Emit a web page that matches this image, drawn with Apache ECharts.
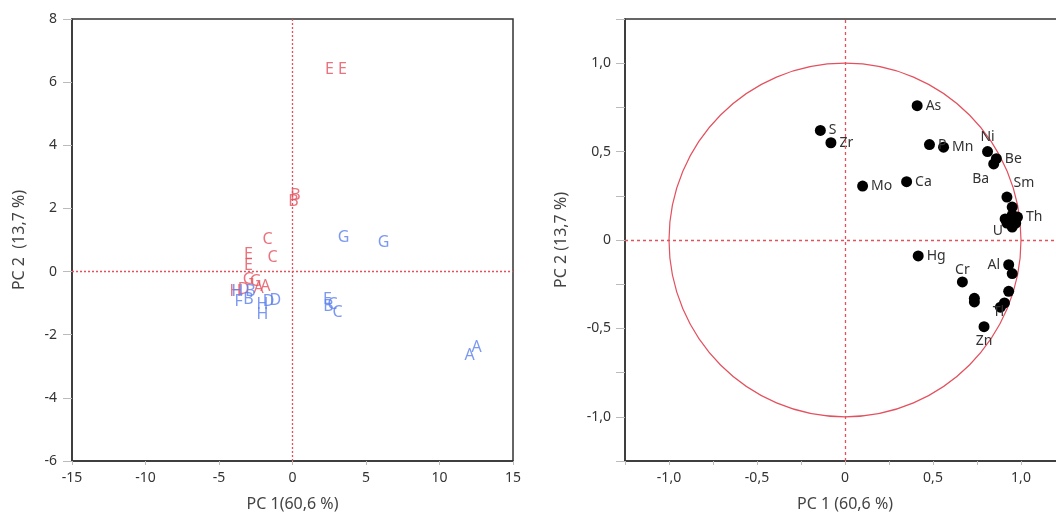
<!DOCTYPE html>
<html>
<head>
<meta charset="utf-8">
<script src="https://cdn.jsdelivr.net/npm/echarts@6/dist/echarts.min.js"></script>
<style>html,body{margin:0;padding:0;background:#fff}#c{width:1056px;height:516px}</style>
</head>
<body>
<div id="c"></div>
<script>
// ---- Scores plot (left) ----
const redLetters = ['E','E','B','B','C','C','E','E','G','G','A','A','D','H'];
const redX = [2.52,3.40,0.20,0.07,-1.70,-1.36,-2.99,-2.99,-2.99,-2.52,-1.84,-2.30,-3.33,-3.88];
const redY = [6.39,6.39,2.41,2.22,1.01,0.44,0.54,0.19,-0.25,-0.32,-0.47,-0.54,-0.57,-0.63];
const blueLetters = ['G','G','E','B','C','C','D','D','H','H','B','B','F','H','A','A'];
const blueX = [3.47,6.19,2.38,2.45,2.72,3.06,-1.16,-1.63,-2.04,-2.04,-2.99,-2.86,-3.67,-3.74,12.04,12.52];
const blueY = [1.08,0.92,-0.89,-1.11,-1.04,-1.30,-0.92,-0.95,-1.04,-1.36,-0.89,-0.63,-0.95,-0.63,-2.66,-2.41];
const leftXTicks = {min:-15, max:15, interval:5};
const leftYTicks = {min:-6, max:8, interval:2};

// ---- Loadings plot (right) ----
const varNames = ['S','Zr','As','P','Mn','Ni','Be','Ba','Mo','Ca','Sm','','','','Th','','','U','Hg','Cr','','','Al','','','Tl','','Zn'];
const varX = [-0.14,-0.08,0.41,0.48,0.56,0.81,0.86,0.845,0.10,0.35,0.92,0.95,0.95,0.91,0.98,0.97,0.95,0.92,0.416,0.667,0.735,0.735,0.93,0.95,0.93,0.906,0.883,0.79];
const varY = [0.62,0.55,0.76,0.54,0.525,0.50,0.46,0.43,0.305,0.33,0.243,0.186,0.141,0.119,0.130,0.096,0.073,0.096,-0.09,-0.237,-0.33,-0.35,-0.14,-0.19,-0.29,-0.356,-0.38,-0.49];
const rightTicks = {min:-1.25, max:1.25, interval:0.25};
const circleRadius = [1];

// label placement (style only)
const labelPlace = {
  Ni:{position:'top', distance:2},
  Ba:{position:'inside', offset:[-13,15]},
  Sm:{position:'inside', offset:[17,-14]},
  U:{position:'inside', offset:[-9,8]},
  Al:{position:'left', distance:3},
  Cr:{position:'inside', offset:[0,-12]},
  Tl:{position:'inside', offset:[-6,9]},
  Zn:{position:'bottom', distance:2}
};

const FONT = '"Noto Sans", "Open Sans", sans-serif';
const RED = '#e3505e';
const BLUE = '#5b80ee';
const TXT = '#333';

function fmtRight(v){
  const r = Math.round(v*100)/100;
  if (Math.abs(r) < 1e-9) return '0';
  if (Math.abs((r*2) - Math.round(r*2)) > 1e-9) return '';
  return r.toFixed(1).replace('.', ',');
}

const axisCommon = {
  axisLine:{show:true, onZero:false, lineStyle:{color:'#333', width:1.5}},
  splitLine:{show:false},
  axisLabel:{color:TXT, fontFamily:FONT, fontSize:14},
  nameTextStyle:{color:'#444', fontFamily:FONT, fontSize:16},
  nameLocation:'middle'
};

const zeroLines = {
  silent:true, symbol:'none', label:{show:false},
  lineStyle:{color:RED, type:[2,2], width:1.3},
  data:[{xAxis:0},{yAxis:0}]
};

const option = {
  animation:false,
  backgroundColor:'#fff',
  grid:[
    {left:72, top:19, width:441, height:442, show:true, borderColor:'#333', borderWidth:1.5, backgroundColor:'transparent', containLabel:false, outerBoundsMode:'none'},
    {left:625, top:19, width:440, height:442, show:true, borderColor:'#333', borderWidth:1.5, backgroundColor:'transparent', containLabel:false, outerBoundsMode:'none'}
  ],
  xAxis:[
    Object.assign({}, axisCommon, {gridIndex:0, type:'value', min:leftXTicks.min, max:leftXTicks.max, interval:leftXTicks.interval,
      name:'PC 1(60,6 %)', nameGap:35,
      axisTick:{show:true, length:4, lineStyle:{color:'#bbb'}},
      axisLabel:Object.assign({}, axisCommon.axisLabel, {margin:10})}),
    Object.assign({}, axisCommon, {gridIndex:1, type:'value', min:rightTicks.min, max:rightTicks.max, interval:rightTicks.interval,
      name:'PC 1 (60,6 %)', nameGap:35,
      axisTick:{show:true, length:4, lineStyle:{color:'#bbb'}},
      axisLabel:Object.assign({}, axisCommon.axisLabel, {margin:10, formatter:fmtRight, showMinLabel:true, showMaxLabel:true})})
  ],
  yAxis:[
    Object.assign({}, axisCommon, {gridIndex:0, type:'value', min:leftYTicks.min, max:leftYTicks.max, interval:leftYTicks.interval,
      name:'PC 2  (13,7 %)', nameGap:45,
      axisTick:{show:true, length:9, lineStyle:{color:'#bbb'}},
      axisLabel:Object.assign({}, axisCommon.axisLabel, {margin:15})}),
    Object.assign({}, axisCommon, {gridIndex:1, type:'value', min:rightTicks.min, max:rightTicks.max, interval:rightTicks.interval,
      name:'PC 2 (13,7 %)', nameGap:56,
      axisTick:{show:true, length:9, lineStyle:{color:'#bbb'}},
      axisLabel:Object.assign({}, axisCommon.axisLabel, {margin:14, formatter:fmtRight})})
  ],
  series:[
    {
      type:'scatter', xAxisIndex:0, yAxisIndex:0, symbolSize:1,
      itemStyle:{color:'rgba(0,0,0,0)'},
      data:redX.map((x,i)=>[x, redY[i], redLetters[i]]),
      label:{show:true, position:'inside', formatter:p=>p.data[2], color:RED, fontFamily:FONT, fontSize:16},
      markLine:zeroLines, z:3
    },
    {
      type:'scatter', xAxisIndex:0, yAxisIndex:0, symbolSize:1,
      itemStyle:{color:'rgba(0,0,0,0)'},
      data:blueX.map((x,i)=>[x, blueY[i], blueLetters[i]]),
      label:{show:true, position:'inside', formatter:p=>p.data[2], color:BLUE, fontFamily:FONT, fontSize:16},
      z:3
    },
    {
      type:'custom', xAxisIndex:1, yAxisIndex:1, silent:true,
      data:[[0,0,circleRadius[0]]],
      renderItem:function(params, api){
        const c = api.coord([api.value(0), api.value(1)]);
        const s = api.size([api.value(2), api.value(2)]);
        return {type:'ellipse', shape:{cx:c[0], cy:c[1], rx:s[0], ry:s[1]},
          style:{fill:null, stroke:RED, lineWidth:1.2}};
      },
      markLine:{silent:true, symbol:'none', label:{show:false},
        lineStyle:{color:RED, type:[3,3], width:1.3}, data:[{xAxis:0},{yAxis:0}]},
      z:2
    },
    {
      type:'scatter', xAxisIndex:1, yAxisIndex:1, symbolSize:11,
      itemStyle:{color:'#000', opacity:1},
      data:varX.map((x,i)=>{
        const n = varNames[i];
        const lp = labelPlace[n] || {position:'right', distance:3};
        return {value:[x, varY[i]], name:n, label:Object.assign({}, lp)};
      }),
      label:{show:true, formatter:p=>p.name, color:TXT, fontFamily:FONT, fontSize:14},
      z:4
    }
  ]
};

const chart = echarts.init(document.getElementById('c'), null, {renderer:'canvas'});
chart.setOption(option);
</script>
</body>
</html>
